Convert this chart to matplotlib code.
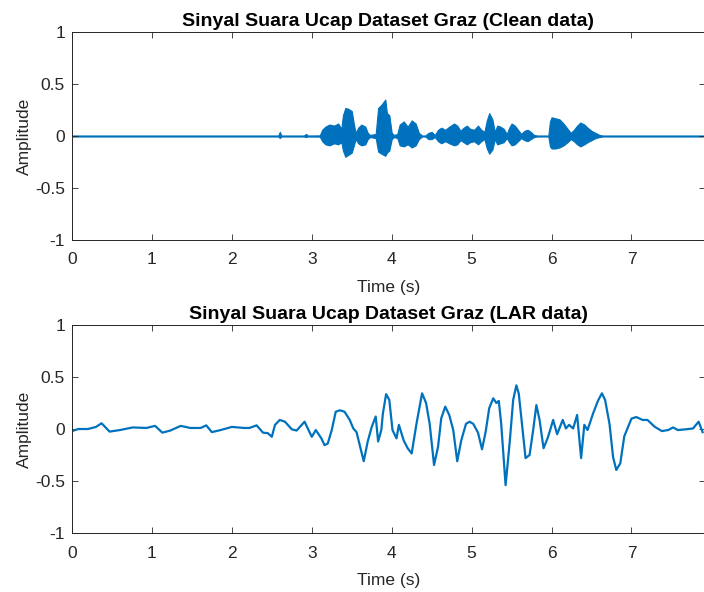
import numpy as np
import matplotlib
matplotlib.use("Agg")
import matplotlib.pyplot as plt

plt.rcParams['font.family'] = ['Liberation Sans', 'DejaVu Sans']

# clean speech: envelope of the waveform (time in s, upper / lower amplitude)
clean_t = [0.0, 2.58, 2.6, 2.62, 2.9, 2.93, 2.95, 3.1, 3.13, 3.17, 3.22, 3.28, 3.33, 3.37,
           3.39, 3.42, 3.46, 3.5, 3.53, 3.55, 3.58, 3.62, 3.67, 3.7, 3.73, 3.8, 3.83, 3.87,
           3.92, 3.94, 3.97, 4.0, 4.03, 4.07, 4.1, 4.15, 4.2, 4.25, 4.3, 4.34, 4.38, 4.42,
           4.46, 4.5, 4.54, 4.58, 4.62, 4.67, 4.72, 4.78, 4.82, 4.86, 4.9, 4.94, 4.98, 5.03,
           5.08, 5.12, 5.16, 5.19, 5.22, 5.26, 5.29, 5.32, 5.36, 5.4, 5.44, 5.47, 5.5, 5.54,
           5.58, 5.62, 5.66, 5.7, 5.74, 5.78, 5.82, 5.96, 5.98, 6.0, 6.05, 6.1, 6.15, 6.2,
           6.24, 6.28, 6.32, 6.36, 6.41, 6.45, 6.5, 6.55, 6.6, 6.64, 7.92]
clean_upper = [0.005, 0.005, 0.04, 0.005, 0.005, 0.02, 0.005, 0.006, 0.06, 0.09, 0.11, 0.1, 0.12, 0.07,
               0.2, 0.27, 0.26, 0.24, 0.1, 0.03, 0.08, 0.11, 0.09, 0.03, 0.01, 0.02, 0.27, 0.3,
               0.35, 0.22, 0.2, 0.03, 0.01, 0.02, 0.11, 0.14, 0.09, 0.15, 0.12, 0.03, 0.005, 0.005,
               0.03, 0.04, 0.01, 0.06, 0.08, 0.06, 0.09, 0.12, 0.1, 0.05, 0.08, 0.1, 0.07, 0.06,
               0.1, 0.06, 0.04, 0.15, 0.22, 0.16, 0.04, 0.1, 0.09, 0.07, 0.02, 0.08, 0.12, 0.1,
               0.06, 0.02, 0.05, 0.06, 0.04, 0.01, 0.005, 0.005, 0.14, 0.18, 0.17, 0.16, 0.12, 0.07,
               0.03, 0.06, 0.1, 0.13, 0.11, 0.08, 0.05, 0.03, 0.01, 0.005, 0.005]
clean_lower = [-0.005, -0.005, -0.02, -0.005, -0.005, -0.01, -0.005, -0.006, -0.05, -0.08, -0.09, -0.07, -0.08, -0.06,
               -0.14, -0.2, -0.18, -0.16, -0.08, -0.03, -0.07, -0.09, -0.08, -0.03, -0.01, -0.02, -0.15, -0.17,
               -0.19, -0.16, -0.14, -0.03, -0.01, -0.02, -0.09, -0.1, -0.08, -0.11, -0.09, -0.03, -0.005, -0.005,
               -0.03, -0.03, -0.01, -0.05, -0.07, -0.05, -0.07, -0.09, -0.08, -0.04, -0.06, -0.08, -0.06, -0.05,
               -0.08, -0.05, -0.03, -0.12, -0.17, -0.13, -0.03, -0.08, -0.07, -0.06, -0.02, -0.06, -0.09, -0.08,
               -0.05, -0.02, -0.04, -0.05, -0.03, -0.01, -0.005, -0.005, -0.1, -0.12, -0.12, -0.11, -0.09, -0.06,
               -0.03, -0.05, -0.08, -0.1, -0.08, -0.06, -0.04, -0.02, -0.01, -0.005, -0.005]

# LAR data
lar_t = [0.0, 0.08, 0.2, 0.3, 0.37, 0.47, 0.6, 0.76, 0.93, 1.04, 1.13, 1.23, 1.36, 1.48,
         1.61, 1.68, 1.75, 1.86, 2.0, 2.15, 2.22, 2.31, 2.39, 2.45, 2.5, 2.54, 2.6, 2.665,
         2.75, 2.81, 2.91, 3.0, 3.05, 3.12, 3.16, 3.2, 3.25, 3.3, 3.35, 3.41, 3.475, 3.52,
         3.56, 3.6, 3.65, 3.7, 3.75, 3.8, 3.83, 3.87, 3.89, 3.93, 3.97, 4.01, 4.06, 4.09,
         4.15, 4.2, 4.25, 4.31, 4.38, 4.43, 4.475, 4.53, 4.58, 4.62, 4.67, 4.72, 4.77, 4.82,
         4.87, 4.93, 4.975, 5.02, 5.08, 5.13, 5.175, 5.22, 5.27, 5.31, 5.34, 5.37, 5.425, 5.475,
         5.52, 5.56, 5.59, 5.63, 5.675, 5.725, 5.77, 5.81, 5.85, 5.9, 5.95, 5.975, 6.02, 6.07,
         6.14, 6.18, 6.22, 6.27, 6.32, 6.37, 6.41, 6.45, 6.52, 6.58, 6.63, 6.67, 6.725, 6.77,
         6.81, 6.86, 6.91, 7.0, 7.06, 7.14, 7.2, 7.29, 7.38, 7.46, 7.52, 7.58, 7.68, 7.77,
         7.84, 7.89]
lar_a = [-0.02, 0.0, 0.0, 0.02, 0.055, -0.025, -0.01, 0.015, 0.01, 0.03, -0.035, -0.015, 0.03, 0.01,
         0.01, 0.035, -0.03, -0.01, 0.02, 0.01, 0.01, 0.035, -0.035, -0.04, -0.075, 0.04, 0.087, 0.07,
         -0.003, -0.015, 0.07, -0.075, -0.01, -0.09, -0.155, -0.14, -0.01, 0.166, 0.18, 0.166, 0.087, 0.005,
         -0.03, -0.155, -0.31, -0.12, 0.02, 0.12, -0.12, -0.01, 0.15, 0.335, 0.28, -0.01, -0.09, 0.04,
         -0.11, -0.185, -0.235, 0.05, 0.343, 0.25, 0.05, -0.346, -0.17, 0.103, 0.215, 0.135, -0.01, -0.31,
         -0.11, 0.05, 0.07, 0.05, -0.035, -0.195, -0.03, 0.2, 0.295, 0.25, 0.27, 0.05, -0.54, -0.14,
         0.28, 0.42, 0.34, 0.05, -0.28, -0.25, -0.01, 0.23, 0.087, -0.185, -0.09, -0.03, 0.087, -0.05,
         0.087, 0.005, 0.04, 0.005, 0.135, -0.28, 0.04, -0.01, 0.15, 0.27, 0.343, 0.28, 0.05, -0.27,
         -0.394, -0.33, -0.07, 0.1, 0.115, 0.087, 0.087, 0.022, -0.02, -0.01, 0.015, -0.01, -0.003, 0.005,
         0.07, -0.03]

x_ticks = [0, 1, 2, 3, 4, 5, 6, 7]
y_ticks = [-1, -0.5, 0, 0.5, 1]
y_labels = ['-1', '-0.5', '0', '0.5', '1']

blue = '#0072BD'
dark = '#262626'

fig = plt.figure(figsize=(7.04, 5.92), dpi=100)
ax1 = fig.add_axes([72 / 704, 352 / 592, 633 / 704, 208 / 592])
ax2 = fig.add_axes([72 / 704, 59 / 592, 633 / 704, 208 / 592])

ax1.fill_between(clean_t, clean_lower, clean_upper, color=blue, linewidth=0.8, edgecolor=blue)
ax2.plot(lar_t, lar_a, color=blue, linewidth=1.6, solid_joinstyle='round')

titles = ['Sinyal Suara Ucap Dataset Graz (Clean data)', 'Sinyal Suara Ucap Dataset Graz (LAR data)']
for ax, title in zip([ax1, ax2], titles):
    ax.set_xlim(0, 7.92)
    ax.set_ylim(-1, 1)
    ax.set_xticks(x_ticks)
    ax.set_yticks(y_ticks)
    ax.set_yticklabels(y_labels)
    ax.tick_params(direction='in', length=4, width=0.6, colors=dark, labelsize=12.5,
                   top=True, right=True)
    ax.tick_params(axis='x', pad=9)
    ax.tick_params(axis='y', pad=5)
    for s in ax.spines.values():
        s.set_color(dark)
        s.set_linewidth(0.7)
    ax.set_title(title, fontsize=14, fontweight='bold', color='black', pad=4)
    ax.set_xlabel('Time (s)', fontsize=12.5, color=dark, labelpad=9)
    ax.set_ylabel('Amplitude', fontsize=12.5, color=dark, labelpad=2)

fig.savefig('out.png', dpi=100)
